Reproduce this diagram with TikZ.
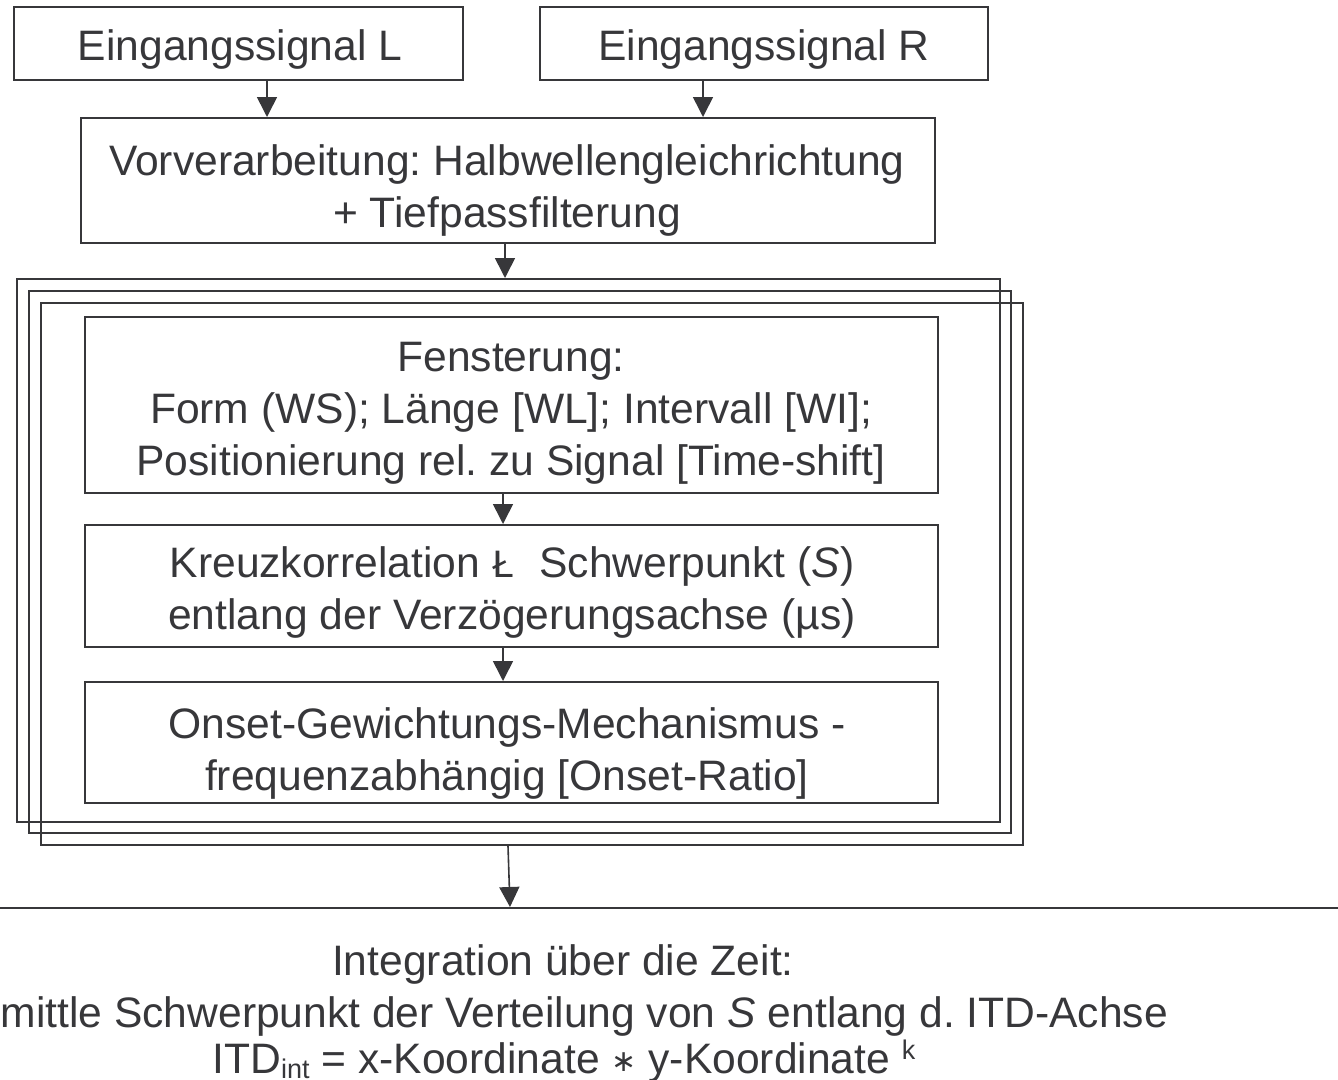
\documentclass[tikz,border=0pt]{standalone}
\usepackage{fontspec}
\setmainfont{Liberation Sans}
\newfontfamily\monoL{Liberation Mono}
\newfontfamily\djv{DejaVu Sans}
\usetikzlibrary{arrows.meta}
\definecolor{ink}{RGB}{55,55,58}
\tikzset{
  box/.style={draw=ink, line width=2pt, inner sep=0pt},
  arr/.style={draw=ink, line width=1.6pt, -{Triangle[width=20pt,length=20pt]}},
  txt/.style={text=ink, inner sep=0pt, align=center, font=\fontsize{42.6}{52}\selectfont\frenchspacing}
}
\begin{document}
\begin{tikzpicture}[x=1pt,y=-1pt]
\useasboundingbox (0,0) rectangle (1338,1079);
\clip (0,0) rectangle (1338,1079);
% top inputs
\node[box, minimum width=449pt, minimum height=73pt] (L) at (238.5,43.5) {};
\node[txt] (Lt) at (240,49.5) {Eingangssignal L};
\node[box, minimum width=448pt, minimum height=73pt] (R) at (764,43.5) {};
\node[txt] (Rt) at (764,49.5) {Eingangssignal R};
% preprocessing
\node[box, minimum width=854pt, minimum height=125pt] (V) at (508,180.5) {};
\node[txt] (Vt) at (507,190.5) {Vorverarbeitung: Halbwellengleichrichtung\\+ Tiefpassfilterung};
% stacked frames
\node[box, minimum width=983pt, minimum height=543pt] (F1) at (508.5,550.5) {};
\node[box, minimum width=982pt, minimum height=542pt] (F2) at (520,562) {};
\node[box, minimum width=982pt, minimum height=542pt] (F3) at (532,574) {};
% inner boxes
\node[box, minimum width=853pt, minimum height=176pt] (W) at (511.5,405) {};
\node[txt] (Wt) at (511,413) {Fensterung:\\ Form (WS); Länge [WL]; Intervall [WI];\\Positionierung rel. zu Signal [Time-shift]};
\node[box, minimum width=853pt, minimum height=122pt] (K) at (511.5,586) {};
\node[txt] (Kt) at (512,592.5) {Kreuzkorrelation {\monoL\fontsize{40}{40}\selectfont Ł}\ \ Schwerpunkt (\textit{S})\\entlang der Verzögerungsachse (µs)};
\node[box, minimum width=853pt, minimum height=121pt] (O) at (511.5,742.5) {};
\node[txt] (Ot) at (507,753) {Onset-Gewichtungs-Mechanismus -\\frequenzabhängig [Onset-Ratio]};
% bottom box (only its top edge is inside the picture)
\node[box, minimum width=1400pt, minimum height=300pt, anchor=north] (I) at (669,907) {};
\node[txt, anchor=base] (I1) at (563,975) {Integration über die Zeit:};
\node[txt, anchor=base] (I2) at (563,1027) {Ermittle Schwerpunkt der Verteilung von \textit{S} entlang d. ITD-Achse};
\node[txt, anchor=base] (I3) at (564,1073) {ITD\raisebox{-5pt}{\fontsize{27}{27}\selectfont int} = x-Koordinate {\djv\fontsize{30}{30}\selectfont\raisebox{2pt}{∗}} y-Koordinate \raisebox{14pt}{\fontsize{27}{27}\selectfont k}};
% connectors
\draw[arr] (L.south -| 267,0) -- (V.north -| 267,0);
\draw[arr] (R.south -| 703,0) -- (V.north -| 703,0);
\draw[arr] (V.south -| 505,0) -- (F1.north -| 505,0);
\draw[arr] (W.south -| 503,0) -- (K.north -| 503,0);
\draw[arr] (K.south -| 503,0) -- (O.north -| 503,0);
\coordinate (Itop) at (510,907);
\draw[arr] (F3.south -| 508,0) -- (Itop);
\end{tikzpicture}
\end{document}
